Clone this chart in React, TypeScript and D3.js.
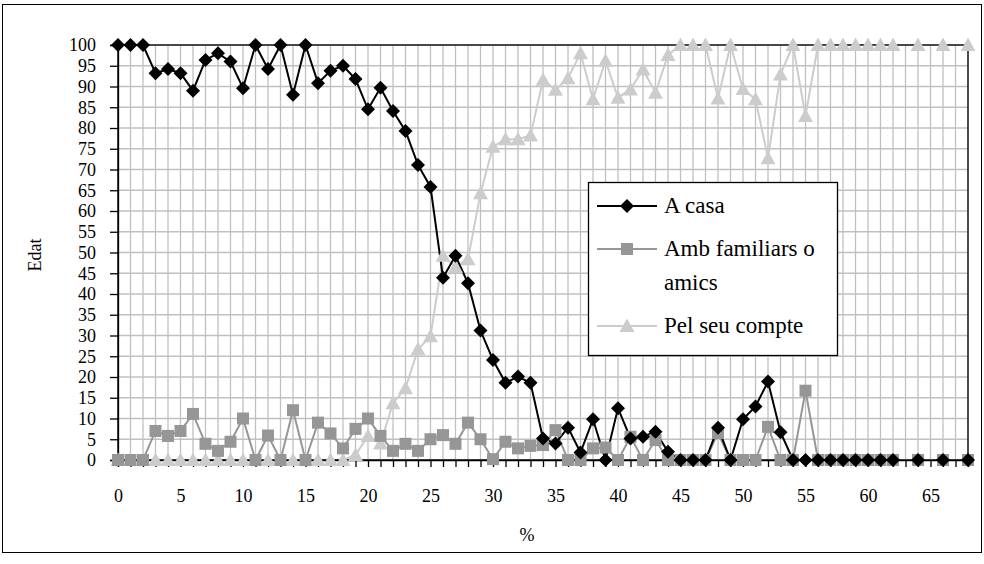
import { useRef, useEffect } from 'react';
import * as d3 from 'd3';

// categories on the x axis (0..68), with labels every 5
const categories = d3.range(0, 69).map(String);
const xTickLabels = ['0', '5', '10', '15', '20', '25', '30', '35', '40', '45', '50', '55', '60', '65'];
const yTicks = [0, 5, 10, 15, 20, 25, 30, 35, 40, 45, 50, 55, 60, 65, 70, 75, 80, 85, 90, 95, 100];

const aCasa: (number | null)[] = [
  100, 100, 100, 93.2, 94.2, 93.2, 89, 96.4, 98, 96,
  89.6, 100, 94.2, 100, 88, 100, 90.8, 93.8, 95, 91.8,
  84.5, 89.7, 84.1, 79.3, 71.1, 65.8, 43.9, 49.2, 42.6, 31.2,
  24.1, 18.6, 20.1, 18.6, 5.2, 4.0, 7.8, 1.8, 9.8, 0,
  12.5, 5.2, 5.6, 6.8, 2.0, 0, 0, 0, 7.8, 0,
  9.8, 12.9, 18.9, 6.7, 0, 0, 0, 0, 0, 0,
  0, 0, 0, null, 0, null, 0, null, 0,
];

const ambFamiliars: (number | null)[] = [
  0, 0, 0, 7.0, 5.8, 7.0, 11.1, 3.9, 2.2, 4.4,
  10.0, 0, 5.9, 0, 12.0, 0, 9.0, 6.4, 2.8, 7.5,
  10.0, 5.8, 2.2, 3.9, 2.2, 5.0, 6.0, 3.9, 9.0, 5.0,
  0.2, 4.4, 2.8, 3.4, 3.6, 7.2, 0, 0, 2.8, 3.0,
  0, 5.6, 0, 4.8, 0, 0, 0, 0, 6.5, 0,
  0, 0, 8.0, 0, 0, 16.7, 0, 0, 0, 0,
  0, 0, 0, null, 0, null, 0, null, 0,
];

const pelSeuCompte: (number | null)[] = [
  0, 0, 0, 0, 0, 0, 0, 0, 0, 0,
  0, 0, 0, 0, 0, 0, 0, 0, 0, 1.2,
  5.8, 4.0, 13.7, 17.3, 26.7, 29.8, 49.2, 46.5, 48.4, 64.3,
  75.5, 77.3, 77.3, 78.2, 91.6, 89.2, 92, 98, 86.9, 96.2,
  87.3, 89.3, 94.1, 88.5, 97.6, 100, 100, 100, 87.1, 100,
  89.4, 86.9, 72.7, 92.9, 100, 82.9, 100, 100, 100, 100,
  100, 100, 100, null, 100, null, 100, null, 100,
];

const FONT = "'Liberation Serif', 'DejaVu Serif', serif";

export default function App() {
  const svgRef = useRef<SVGSVGElement>(null);

  useEffect(() => {
    if (!svgRef.current) return;
    const svg = d3.select(svgRef.current);
    svg.selectAll('*').remove();

    const left = 118, right = 968, top = 45, bottom = 460;

    const x = d3.scalePoint<string>().domain(categories).range([left, right]).padding(0);
    const y = d3.scaleLinear().domain([0, 100]).range([bottom, top]);

    // outer chart frame
    svg.append('rect')
      .attr('x', 2.5).attr('y', 4.5).attr('width', 979).attr('height', 548)
      .attr('fill', 'white').attr('stroke', '#000').attr('stroke-width', 1);

    // grid
    const grid = svg.append('g');
    grid.selectAll('.vg').data(categories).join('line')
      .attr('x1', d => x(d)!).attr('x2', d => x(d)!)
      .attr('y1', top).attr('y2', bottom)
      .attr('stroke', '#c0c0c0').attr('stroke-width', 1.3);
    grid.selectAll('.hg').data(yTicks).join('line')
      .attr('x1', left).attr('x2', right)
      .attr('y1', d => y(d)).attr('y2', d => y(d))
      .attr('stroke', '#c0c0c0').attr('stroke-width', 1.3);

    const series = [
      { name: 'Pel seu compte', values: pelSeuCompte, color: '#cccccc', marker: 'triangle' },
      { name: 'Amb familiars o amics', values: ambFamiliars, color: '#969696', marker: 'square' },
      { name: 'A casa', values: aCasa, color: '#000000', marker: 'diamond' },
    ];

    const line = d3.line<number | null>()
      .defined(d => d !== null)
      .x((_, i) => x(categories[i])!)
      .y(d => y(d as number));

    series.forEach(s => {
      svg.append('path')
        .attr('d', line(s.values))
        .attr('fill', 'none')
        .attr('stroke', s.color)
        .attr('stroke-width', 2);
    });

    // plot border / axes
    svg.append('rect')
      .attr('x', left).attr('y', top).attr('width', right - left).attr('height', bottom - top)
      .attr('fill', 'none').attr('stroke', '#000').attr('stroke-width', 1.3);

    const yAxis = svg.append('g').attr('transform', `translate(${left},0)`)
      .call(d3.axisLeft(y).tickValues(yTicks).tickSize(8).tickPadding(14).tickFormat(d => String(d)));
    yAxis.select('.domain').attr('stroke', '#000').attr('stroke-width', 1.3);
    yAxis.selectAll('.tick line').attr('stroke', '#000').attr('stroke-width', 1.3);
    yAxis.selectAll('text').style('font-family', FONT).style('font-size', '18px').attr('fill', '#000');

    const xAxis = svg.append('g').attr('transform', `translate(0,${bottom})`)
      .call(d3.axisBottom(x).tickSize(7).tickPadding(22)
        .tickFormat(d => (xTickLabels.includes(d) ? d : '')));
    xAxis.select('.domain').attr('stroke', '#000').attr('stroke-width', 1.3);
    xAxis.selectAll('.tick line').attr('stroke', '#000').attr('stroke-width', 1.3);
    xAxis.selectAll('text').style('font-family', FONT).style('font-size', '18px').attr('fill', '#000');

    // markers
    const drawMarker = (g: d3.Selection<SVGGElement, unknown, null, undefined>, kind: string, color: string) => {
      if (kind === 'diamond') {
        g.append('path').attr('d', 'M0,-7L7,0L0,7L-7,0Z').attr('fill', color);
      } else if (kind === 'square') {
        g.append('rect').attr('x', -6).attr('y', -6).attr('width', 12).attr('height', 12).attr('fill', color);
      } else {
        g.append('path').attr('d', 'M0,-7.5L7.5,6L-7.5,6Z').attr('fill', color);
      }
    };

    series.forEach(s => {
      s.values.forEach((v, i) => {
        if (v === null) return;
        const g = svg.append('g').attr('transform', `translate(${x(categories[i])},${y(v)})`);
        drawMarker(g, s.marker, s.color);
      });
    });

    // axis titles
    svg.append('text')
      .attr('x', 527).attr('y', 541)
      .attr('text-anchor', 'middle')
      .style('font-family', FONT).style('font-size', '18px')
      .text('%');
    svg.append('text')
      .attr('transform', 'translate(41,255) rotate(-90)')
      .attr('text-anchor', 'middle')
      .style('font-family', FONT).style('font-size', '18px')
      .text('Edat');

    // legend
    const legend = svg.append('g');
    legend.append('rect')
      .attr('x', 588.5).attr('y', 182.5).attr('width', 249).attr('height', 173)
      .attr('fill', 'white').attr('stroke', '#000').attr('stroke-width', 1.3);
    const legendItems = [
      { s: series[2], cy: 206, lines: ['A casa'], baselines: [213] },
      { s: series[1], cy: 249, lines: ['Amb familiars o', 'amics'], baselines: [256, 290] },
      { s: series[0], cy: 326, lines: ['Pel seu compte'], baselines: [333] },
    ];
    legendItems.forEach(it => {
      legend.append('line')
        .attr('x1', 597).attr('x2', 657).attr('y1', it.cy).attr('y2', it.cy)
        .attr('stroke', it.s.color).attr('stroke-width', 2);
      const g = legend.append('g').attr('transform', `translate(627,${it.cy})`);
      drawMarker(g, it.s.marker, it.s.color);
      it.lines.forEach((t, k) => {
        legend.append('text')
          .attr('x', 664).attr('y', it.baselines[k])
          .style('font-family', FONT).style('font-size', '23px')
          .text(t);
      });
    });
  }, []);

  return (
    <svg
      ref={svgRef}
      width={984}
      height={564}
      style={{ position: 'absolute', left: 0, top: 0, background: 'white' }}
    />
  );
}
